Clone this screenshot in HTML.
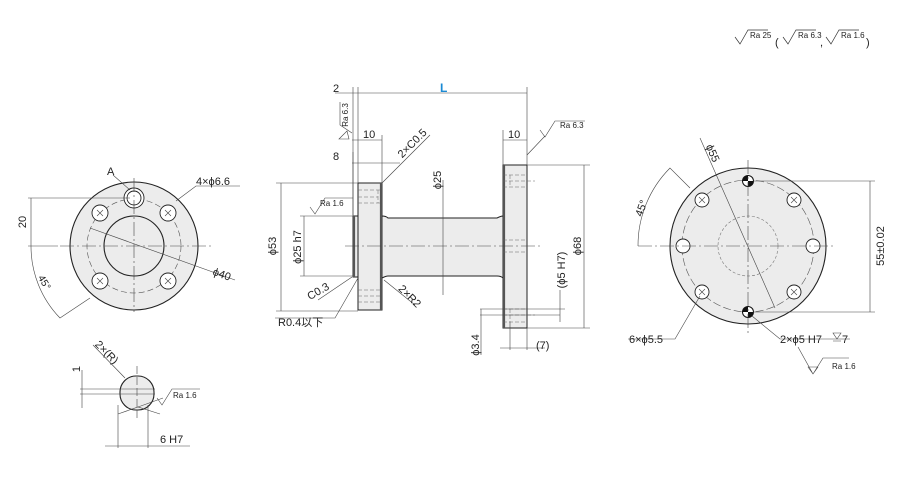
<!DOCTYPE html>
<html><head><meta charset="utf-8"><style>
html,body{margin:0;padding:0;background:#fff;width:900px;height:500px;overflow:hidden}
svg{display:block}
text{font-family:"Liberation Sans","Noto Sans CJK JP",sans-serif;fill:#222}
.c{text-anchor:middle}
</style></head><body>
<svg width="900" height="500" viewBox="0 0 900 500" xmlns="http://www.w3.org/2000/svg">
<g fill="none" stroke="#333" stroke-width="0.7">
<path d="M735,37 l5,7 l8,-14 h20"/>
<path d="M783,37 l5,7 l8,-14 h20"/>
<path d="M826,37 l5,7 l8,-14 h20"/>
</g>
<g font-size="8">
<text x="750" y="38">Ra  25</text>
<text x="775" y="46" font-size="11">(</text>
<text x="798" y="38">Ra  6.3</text>
<text x="820" y="46" font-size="11">,</text>
<text x="841" y="38">Ra  1.6</text>
<text x="866" y="46" font-size="11">)</text>
</g>

<!-- LEFT VIEW -->
<circle cx="134" cy="246" r="64" fill="#ececec" stroke="#222" stroke-width="1.1"/>
<circle cx="134" cy="246" r="30" fill="#ececec" stroke="#222" stroke-width="1.1"/>
<circle cx="134" cy="246" r="47" fill="none" stroke="#555" stroke-width="0.6" stroke-dasharray="6,3"/>
<g fill="#fff" stroke="#222" stroke-width="0.9">
<circle cx="100" cy="213" r="8"/><circle cx="168" cy="213" r="8"/>
<circle cx="100" cy="281" r="8"/><circle cx="168" cy="281" r="8"/>
<circle cx="134" cy="198" r="10"/><circle cx="134" cy="198" r="7"/>
</g>
<g stroke="#444" stroke-width="0.6">
<path d="M97,210l6,6M103,210l-6,6M165,210l6,6M171,210l-6,6M97,278l6,6M103,278l-6,6M165,278l6,6M171,278l-6,6"/>
</g>
<g fill="none" stroke="#444" stroke-width="0.6">
<path d="M60,246H212M134,178V312" stroke-dasharray="14,3,2,3"/>
<path d="M28,198H130M28,246h30M31,198V246"/>
<path d="M31,246 A103,103 0 0 0 60,318 L90,298"/>
<path d="M90,228L235,280"/>
<path d="M176,201L196,186H240"/>
<path d="M113,175L130,190"/>
</g>
<text x="107" y="175" font-size="11">A</text>
<text x="196" y="185" font-size="11">4×ϕ6.6</text>
<text class="c" x="222" y="278" font-size="11" transform="rotate(20 222 274)">ϕ40</text>
<text class="c" x="22" y="226" font-size="11" transform="rotate(-90 22 222)">20</text>
<text class="c" x="45" y="286" font-size="10" transform="rotate(60 45 282)">45°</text>

<!-- oval -->
<rect x="120" y="376" width="34" height="34" rx="16" fill="#ececec" stroke="#222" stroke-width="1.1"/>
<g fill="none" stroke="#444" stroke-width="0.6">
<path d="M137,366V420" stroke-dasharray="8,3"/>
<path d="M80,389H155M80,394H155M82,370V408"/>
<path d="M93,345L125,378"/>
<path d="M118,405V448M148,405V448M105,446H190"/>
<path d="M118,414L138,407L160,414"/>
<path d="M138,407L163,398"/>
<path d="M157,398l5,7 l10,-16 h28"/>
</g>
<text class="c" x="76" y="373" font-size="11" transform="rotate(-90 76 369)">1</text>
<text class="c" x="107" y="356" font-size="11" transform="rotate(45 107 352)">2×(R)</text>
<text x="173" y="398" font-size="8">Ra  1.6</text>
<text x="160" y="443" font-size="11">6 H7</text>

<!-- MIDDLE -->
<path d="M382,216 q4,0 6,2 H497 q4,-2 6,-2 V278 q-2,-2 -6,-2 H388 q-2,0 -6,2 Z" fill="#ececec" stroke="#222" stroke-width="1"/>
<rect x="358" y="183" width="24" height="127" fill="#ececec" stroke="#222" stroke-width="1"/>
<rect x="353" y="216" width="5" height="61" fill="#ececec" stroke="#222" stroke-width="1"/>
<rect x="503" y="165" width="24" height="163" fill="#ececec" stroke="#222" stroke-width="1"/>
<path d="M381,183V310M504,165V328M354,216V277" stroke="#555" stroke-width="2.2"/>
<g fill="none" stroke="#666" stroke-width="0.5" stroke-dasharray="4,2">
<path d="M358,190H382M358,197H378M358,203H382M378,190V203"/>
<path d="M358,290H382M358,296H382M358,302H382"/>
<path d="M503,175H527M510,175V187M503,187H527M503,181H535"/>
<path d="M503,240H527M503,252H527"/>
<path d="M503,309H527M503,315H535M510,309V322M503,322H527"/>
</g>
<g fill="none" stroke="#444" stroke-width="0.6">
<path d="M345,246H540" stroke-dasharray="14,3,2,3"/>
<path d="M353,87V215M358,87V183M527,87V165M335,93H527M358,98V140"/>
<path d="M352,140H382M382,135V183M352,163H400M353,152V216"/>
<path d="M382,183L430,135"/>
<path d="M503,140H527M503,130V165M527,155L545,136"/>
<path d="M443,180V295M276,183H358M276,311H358M281,183V311"/>
<path d="M300,216H353M300,276H353M304,216V276"/>
<path d="M340,102V125L352,133"/>
<path d="M347,131 l-8,8 h10 z"/>
<path d="M310,207l5,7 l10,-16 h28"/>
<path d="M540,130l5,7 l10,-16 h30"/>
<path d="M527,165H590M527,328H590M584,165V328"/>
<path d="M480,309H565M480,315H560M560,290V322"/>
<path d="M481,309V355M510,322V350M527,328V350M500,348H545"/>
<path d="M352,277L318,300M358,278L335,318H275"/>
<path d="M384,280L415,305"/>
</g>
<text x="440" y="92" font-size="12" font-weight="bold" style="fill:#1a8ad4">L</text>
<text x="333" y="92" font-size="11">2</text>
<text x="333" y="160" font-size="11">8</text>
<text x="363" y="138" font-size="11">10</text>
<text x="508" y="138" font-size="11">10</text>
<text class="c" x="412" y="147" font-size="11" transform="rotate(-45 412 143)">2×C0.5</text>
<text class="c" x="437" y="184" font-size="11" transform="rotate(-90 437 180)">ϕ25</text>
<text class="c" x="272" y="250" font-size="11" transform="rotate(-90 272 246)">ϕ53</text>
<text class="c" x="297" y="251" font-size="11" transform="rotate(-90 297 247)">ϕ25 h7</text>
<text x="320" y="206" font-size="8">Ra  1.6</text>
<text class="c" x="345" y="118" font-size="8" transform="rotate(-90 345 115)">Ra 6.3</text>
<text x="560" y="128" font-size="8">Ra  6.3</text>
<text class="c" x="318" y="295" font-size="11" transform="rotate(-30 318 291)">C0.3</text>
<text x="278" y="326" font-size="11">R0.4以下</text>
<text class="c" x="410" y="300" font-size="11" transform="rotate(45 410 296)">2×R2</text>
<text class="c" x="577" y="250" font-size="11" transform="rotate(-90 577 246)">ϕ68</text>
<text class="c" x="561" y="274" font-size="11" transform="rotate(-90 561 270)">(ϕ5 H7)</text>
<text class="c" x="475" y="349" font-size="11" transform="rotate(-90 475 345)">ϕ3.4</text>
<text x="536" y="349" font-size="11">(7)</text>

<!-- RIGHT VIEW -->
<circle cx="748" cy="246" r="78" fill="#ececec" stroke="#222" stroke-width="1.1"/>
<circle cx="748" cy="246" r="66" fill="none" stroke="#555" stroke-width="0.6" stroke-dasharray="8,3"/>
<circle cx="748" cy="246" r="30" fill="none" stroke="#777" stroke-width="0.6" stroke-dasharray="3,2"/>
<g fill="#fff" stroke="#222" stroke-width="0.9">
<circle cx="683" cy="246" r="7"/><circle cx="813" cy="246" r="7"/>
<circle cx="702" cy="200" r="7"/><circle cx="794" cy="200" r="7"/>
<circle cx="702" cy="292" r="7"/><circle cx="794" cy="292" r="7"/>
</g>
<g stroke="#444" stroke-width="0.6">
<path d="M699,197l6,6M705,197l-6,6M791,197l6,6M797,197l-6,6M699,289l6,6M705,289l-6,6M791,289l6,6M797,289l-6,6"/>
</g>
<g>
<circle cx="748" cy="181" r="6" fill="#111"/><path d="M748,181h-5a5,5 0 0 0 5,5zM748,181h5a5,5 0 0 0 -5,-5z" fill="#fff"/>
<circle cx="748" cy="312" r="6" fill="#111"/><path d="M748,312h-5a5,5 0 0 0 5,5zM748,312h5a5,5 0 0 0 -5,-5z" fill="#fff"/>
</g>
<g fill="none" stroke="#444" stroke-width="0.6">
<path d="M638,246H836M748,160V335" stroke-dasharray="14,3,2,3"/>
<path d="M700,138L775,308"/>
<path d="M753,181H875M753,312H875M870,181V312"/>
<path d="M638,246 A110,110 0 0 1 670,168 L690,188"/>
<path d="M700,296L675,339H628"/>
<path d="M752,316L780,339H850"/>
<path d="M798,347l15,27 l5,-7 l-10,0 l5,7 l10,-16 h26" stroke-linejoin="round"/>
<path d="M833,333h8l-4,6z M833,341h8"/>
</g>
<text class="c" x="713" y="157" font-size="11" transform="rotate(66 713 153)">ϕ55</text>
<text class="c" x="641" y="212" font-size="11" transform="rotate(-70 641 208)">45°</text>
<text class="c" x="880" y="250" font-size="11" transform="rotate(-90 880 246)">55±0.02</text>
<text x="629" y="343" font-size="11">6×ϕ5.5</text>
<text x="780" y="343" font-size="11">2×ϕ5 H7</text>
<text x="842" y="343" font-size="11">7</text>
<text x="832" y="369" font-size="8">Ra  1.6</text>
</svg>
</body></html>
